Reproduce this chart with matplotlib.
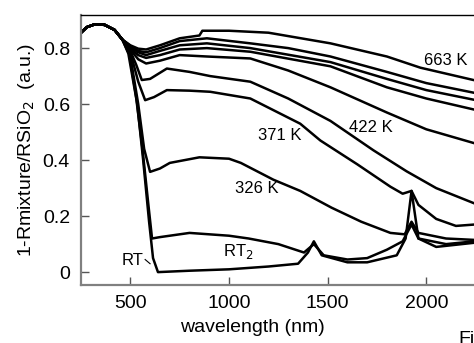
import matplotlib
matplotlib.use("Agg")
import matplotlib.pyplot as plt

plt.rcParams['font.family'] = ['Liberation Sans', 'DejaVu Sans']

# wavelength (nm) / value pairs, one pair per curve
wl_663 = [250, 280, 320, 370, 420, 460, 500, 540, 580, 650, 750, 850, 865, 1000, 1200, 1514, 1800, 1970, 2245, 2500]
r_663 = [0.855, 0.875, 0.885, 0.883, 0.865, 0.83, 0.81, 0.798, 0.795, 0.81, 0.835, 0.845, 0.862, 0.862, 0.855, 0.817, 0.77, 0.73, 0.685, 0.64]

wl_u2 = [250, 280, 320, 370, 420, 460, 500, 540, 580, 650, 750, 888, 1108, 1300, 1514, 1800, 2000, 2245, 2500]
r_u2 = [0.855, 0.875, 0.885, 0.883, 0.865, 0.83, 0.808, 0.79, 0.785, 0.80, 0.825, 0.835, 0.817, 0.80, 0.77, 0.715, 0.675, 0.64, 0.60]

wl_u3 = [250, 280, 320, 370, 420, 460, 500, 540, 580, 650, 750, 888, 1108, 1514, 1800, 2000, 2245, 2500]
r_u3 = [0.855, 0.875, 0.885, 0.883, 0.865, 0.83, 0.805, 0.785, 0.775, 0.79, 0.81, 0.817, 0.80, 0.75, 0.69, 0.65, 0.615, 0.57]

wl_u4 = [250, 280, 320, 370, 420, 460, 500, 540, 580, 650, 750, 888, 1108, 1514, 1800, 2000, 2245, 2500]
r_u4 = [0.855, 0.875, 0.885, 0.883, 0.865, 0.83, 0.80, 0.775, 0.765, 0.775, 0.795, 0.80, 0.787, 0.735, 0.66, 0.62, 0.58, 0.53]

wl_u5 = [250, 280, 320, 370, 420, 460, 500, 540, 580, 650, 750, 888, 1108, 1300, 1514, 1800, 2000, 2245, 2500]
r_u5 = [0.855, 0.875, 0.885, 0.883, 0.865, 0.83, 0.795, 0.76, 0.745, 0.755, 0.775, 0.77, 0.763, 0.72, 0.66, 0.57, 0.51, 0.46, 0.40]

wl_422 = [250, 280, 320, 370, 420, 460, 500, 530, 558, 600, 685, 800, 905, 1108, 1300, 1514, 1732, 1900, 2050, 2245, 2500]
r_422 = [0.855, 0.875, 0.885, 0.883, 0.865, 0.83, 0.79, 0.74, 0.686, 0.69, 0.727, 0.715, 0.70, 0.68, 0.62, 0.54, 0.435, 0.36, 0.30, 0.245, 0.18]

wl_371 = [250, 280, 320, 370, 420, 460, 500, 540, 575, 620, 685, 800, 905, 1108, 1361, 1463, 1650, 1818, 1880, 1925, 1960, 2050, 2150, 2245, 2500]
r_371 = [0.855, 0.875, 0.885, 0.883, 0.865, 0.83, 0.785, 0.68, 0.614, 0.625, 0.65, 0.648, 0.644, 0.62, 0.53, 0.47, 0.385, 0.305, 0.28, 0.29, 0.24, 0.19, 0.165, 0.17, 0.19]

wl_326 = [250, 280, 320, 370, 420, 460, 500, 540, 570, 600, 650, 700, 850, 1000, 1060, 1225, 1361, 1520, 1670, 1818, 1890, 1925, 1960, 2100, 2245, 2500]
r_326 = [0.855, 0.875, 0.885, 0.883, 0.865, 0.83, 0.77, 0.60, 0.44, 0.358, 0.37, 0.39, 0.41, 0.405, 0.39, 0.33, 0.29, 0.23, 0.18, 0.14, 0.135, 0.18, 0.14, 0.12, 0.115, 0.13]

wl_rt2 = [250, 280, 320, 370, 420, 460, 490, 530, 560, 590, 610, 650, 800, 1000, 1100, 1250, 1380, 1430, 1480, 1600, 1700, 1800, 1880, 1925, 1960, 2100, 2245, 2500]
r_rt2 = [0.855, 0.875, 0.885, 0.883, 0.865, 0.83, 0.78, 0.62, 0.45, 0.25, 0.12, 0.125, 0.14, 0.13, 0.12, 0.10, 0.07, 0.10, 0.06, 0.045, 0.05, 0.08, 0.11, 0.17, 0.12, 0.10, 0.11, 0.13]

wl_rt = [250, 280, 320, 370, 420, 460, 495, 535, 565, 595, 615, 640, 800, 1000, 1200, 1350, 1400, 1430, 1470, 1600, 1700, 1850, 1895, 1925, 1960, 2050, 2245, 2500]
r_rt = [0.855, 0.875, 0.885, 0.883, 0.865, 0.83, 0.78, 0.60, 0.40, 0.18, 0.05, 0.0, 0.005, 0.01, 0.02, 0.03, 0.07, 0.11, 0.06, 0.035, 0.035, 0.06, 0.12, 0.29, 0.12, 0.09, 0.105, 0.12]

curves = [(wl_663, r_663), (wl_u2, r_u2), (wl_u3, r_u3), (wl_u4, r_u4), (wl_u5, r_u5),
          (wl_422, r_422), (wl_371, r_371), (wl_326, r_326), (wl_rt2, r_rt2), (wl_rt, r_rt)]

# curve labels: text, wavelength, value
labels = [("663 K", 2098, 0.757), ("422 K", 1717, 0.518), ("371 K", 1255, 0.489),
          ("326 K", 1143, 0.30), ("RT$_2$", 1047, 0.075), ("RT", 509, 0.04)]

fig = plt.figure(figsize=(4.74, 3.43), dpi=100)
# axes run past the right edge of the picture, as in the cropped original
ax = fig.add_axes([0.1709, 0.1691, 0.9367, 0.787])

for wl, r in curves:
    ax.plot(wl, r, color='black', lw=1.8)

for txt, x, y in labels:
    ax.text(x, y, txt, fontsize=12, ha='center', va='center')
# little pointer from the RT label to its curve
ax.plot([575, 600], [0.045, 0.03], color='black', lw=0.8)

ax.set_xlim(250, 2500)
ax.set_ylim(-0.046, 0.918)
ax.set_xticks([500, 1000, 1500, 2000])
ax.set_yticks([0, 0.2, 0.4, 0.6, 0.8])
ax.set_yticklabels(['0', '0.2', '0.4', '0.6', '0.8'])
ax.tick_params(direction='in', length=6, labelsize=14, width=1, color='#555555')
ax.tick_params(axis='y', pad=8)
ax.tick_params(axis='x', pad=7)

ax.spines['right'].set_visible(False)
ax.spines['top'].set_linewidth(1.0)
for s in ['left', 'bottom']:
    ax.spines[s].set_color('#808080')
    ax.spines[s].set_linewidth(1.6)

ax.set_xlabel("wavelength (nm)", fontsize=14, labelpad=1)
ax.set_ylabel("1-Rmixture/RSiO$_2$  (a.u.)", fontsize=14, labelpad=4)
ax.xaxis.set_label_coords((252 - 81) / 444, -0.125)

fig.text(458 / 474, (343 - 331) / 343, "Fi", fontsize=14, va='top', ha='left')

fig.savefig("out.png", dpi=100)
